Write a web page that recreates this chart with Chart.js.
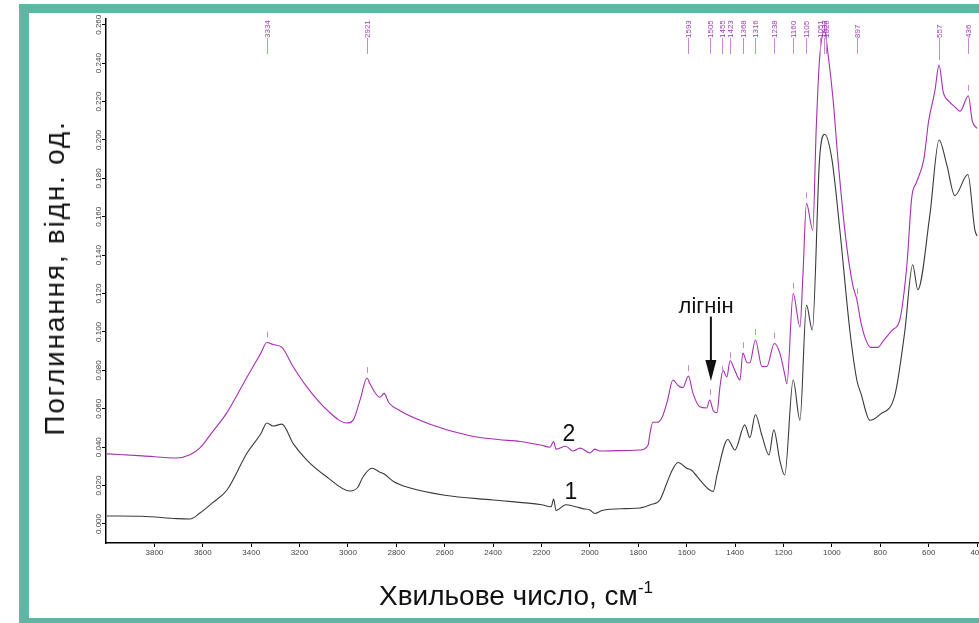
<!DOCTYPE html>
<html lang="uk">
<head>
<meta charset="UTF-8">
<title>ІЧ-спектри</title>
<script src="https://cdn.jsdelivr.net/npm/chart.js"></script>
<style>
  html, body { margin: 0; padding: 0; background: #fff; width: 979px; height: 623px; overflow: hidden; }
  .frame { position: absolute; left: 19px; top: 4px; width: 1000px; height: 624px; box-sizing: border-box;
           border: 10px solid #5fb6a2; border-top-width: 9px; }
  #chart { position: absolute; left: 0; top: 0; }
  .ytitle { position: absolute; left: 55px; top: 278px; transform: translate(-50%, -50%) rotate(-90deg);
            white-space: nowrap; font: 28px "Liberation Sans", Arial, sans-serif; letter-spacing: 1.8px; color: #111; }
  .xtitle { position: absolute; left: 516px; top: 596px; transform: translate(-50%, -50%);
            white-space: nowrap; font: 28px "Liberation Sans", Arial, sans-serif; color: #111; }
  .xtitle sup { font-size: 17px; vertical-align: 12px; line-height: 0; }
</style>
</head>
<body>
  <div class="frame"></div>
  <canvas id="chart" width="979" height="623"></canvas>
  <div class="ytitle">Поглинання, відн. од.</div>
  <div class="xtitle">Хвильове число, см<sup>-1</sup></div>
<script>
// spectrum 2 (purple, upper)
const wave2 = [3996, 3850, 3707, 3653, 3612, 3560, 3500, 3417, 3360, 3335,
               3310, 3273, 3227, 3170, 3087, 3004, 2979, 2950, 2921, 2909,
               2868, 2851, 2830, 2785, 2661, 2496, 2380, 2289, 2200, 2165,
               2150, 2140, 2100, 2070, 2040, 2000, 1980, 1959, 1880, 1794,
               1760, 1752, 1740, 1720, 1700, 1680, 1657, 1635, 1616, 1593,
               1574, 1546, 1517, 1505, 1490, 1475, 1463, 1450, 1434, 1421,
               1401, 1380, 1368, 1350, 1339, 1316, 1289, 1269, 1238, 1215,
               1195, 1186, 1160, 1132, 1120, 1105, 1079, 1065, 1051, 1030,
               1018, 995, 975, 942, 913, 897, 880, 860, 840, 810,
               790, 750, 720, 690, 670, 650, 620, 600, 575, 557,
               540, 515, 490, 470, 436, 420, 400];
const abs2 = [0.0365, 0.0355, 0.0344, 0.0360, 0.0396, 0.0480, 0.0580, 0.0766, 0.0890, 0.0945,
              0.0935, 0.0920, 0.0820, 0.0714, 0.0594, 0.0526, 0.0540, 0.0646, 0.0760, 0.0730,
              0.0660, 0.0680, 0.0630, 0.0590, 0.0520, 0.0460, 0.0440, 0.0430, 0.0410, 0.0400,
              0.0430, 0.0390, 0.0405, 0.0380, 0.0395, 0.0370, 0.0390, 0.0380, 0.0382, 0.0385,
              0.0410, 0.0470, 0.0530, 0.0530, 0.0560, 0.0640, 0.0750, 0.0720, 0.0710, 0.0770,
              0.0680, 0.0610, 0.0604, 0.0646, 0.0590, 0.0580, 0.0710, 0.0800, 0.0766, 0.0850,
              0.0800, 0.0750, 0.0890, 0.0840, 0.0840, 0.0958, 0.0820, 0.0820, 0.0940, 0.0890,
              0.0780, 0.0730, 0.1200, 0.1026, 0.1286, 0.1670, 0.1530, 0.2050, 0.2420, 0.2570,
              0.2470, 0.2210, 0.1900, 0.1480, 0.1240, 0.1170, 0.1050, 0.0960, 0.0920, 0.0920,
              0.0950, 0.1010, 0.1060, 0.1350, 0.1700, 0.1780, 0.1900, 0.2100, 0.2250, 0.2390,
              0.2250, 0.2200, 0.2170, 0.2150, 0.2230, 0.2100, 0.2060];

// spectrum 1 (black, lower)
const wave1 = [3996, 3850, 3707, 3653, 3612, 3560, 3500, 3417, 3360, 3335,
               3310, 3273, 3227, 3170, 3087, 2992, 2960, 2938, 2901, 2868,
               2850, 2810, 2750, 2600, 2400, 2200, 2160, 2150, 2140, 2100,
               2060, 2030, 2000, 1980, 1950, 1850, 1794, 1750, 1711, 1680,
               1660, 1636, 1600, 1580, 1546, 1505, 1490, 1475, 1430, 1401,
               1360, 1339, 1316, 1289, 1260, 1240, 1215, 1195, 1160, 1132,
               1105, 1081, 1051, 1030, 1000, 967, 926, 897, 880, 843,
               802, 740, 699, 666, 645, 595, 557, 525, 492, 438,
               409, 400];
const abs1 = [0.0042, 0.0040, 0.0028, 0.0026, 0.0057, 0.0110, 0.0177, 0.0370, 0.0470, 0.0526,
              0.0510, 0.0520, 0.0420, 0.0333, 0.0245, 0.0172, 0.0190, 0.0245, 0.0290, 0.0270,
              0.0260, 0.0220, 0.0190, 0.0150, 0.0125, 0.0100, 0.0090, 0.0130, 0.0070, 0.0100,
              0.0090, 0.0080, 0.0073, 0.0055, 0.0070, 0.0080, 0.0083, 0.0100, 0.0125, 0.0220,
              0.0280, 0.0320, 0.0290, 0.0280, 0.0230, 0.0177, 0.0170, 0.0255, 0.0440, 0.0385,
              0.0516, 0.0450, 0.0570, 0.0460, 0.0360, 0.0490, 0.0330, 0.0255, 0.0750, 0.0540,
              0.1140, 0.1010, 0.1900, 0.2030, 0.1900, 0.1530, 0.1010, 0.0750, 0.0680, 0.0540,
              0.0570, 0.0670, 0.1000, 0.1350, 0.1220, 0.1610, 0.2000, 0.1870, 0.1710, 0.1820,
              0.1530, 0.1500];

// x axis tick values
const xTicks = [400, 600, 800, 1000, 1200, 1400, 1600, 1800, 2000, 2200,
                2400, 2600, 2800, 3000, 3200, 3400, 3600, 3800];

// peak picks shown at the top
const peaks = [3334, 2921, 1593, 1505, 1455, 1423, 1368, 1316, 1238, 1160, 1105, 1051, 1033, 1026, 897, 557, 436];

const FONT = '"Liberation Sans", Arial, sans-serif';

function valueAt(waves, vals, w) {
  for (let i = 0; i < waves.length - 1; i++) {
    if (w <= waves[i] && w >= waves[i + 1]) {
      const t = (waves[i] - w) / (waves[i] - waves[i + 1]);
      return vals[i] + t * (vals[i + 1] - vals[i]);
    }
  }
  return vals[vals.length - 1];
}

const overlay = {
  id: 'overlay',
  afterDraw(chart) {
    const ctx = chart.ctx, xs = chart.scales.x, ys = chart.scales.y;
    ctx.save();
    // y tick labels, rotated
    ctx.fillStyle = '#444';
    ctx.font = '8px ' + FONT;
    ys.ticks.forEach(t => {
      const y = ys.getPixelForValue(t.value);
      ctx.save();
      ctx.translate(99, y);
      ctx.rotate(-Math.PI / 2);
      ctx.textAlign = 'center';
      ctx.textBaseline = 'middle';
      ctx.fillText(t.value.toFixed(3), 0, 0);
      ctx.restore();
    });
    // peak labels at the top + small marks over spectrum 2
    peaks.forEach(p => {
      const x = Math.round(xs.getPixelForValue(p)) + 0.5;
      ctx.strokeStyle = '#c98ad4';
      ctx.lineWidth = 1;
      ctx.beginPath(); ctx.moveTo(x, 38); ctx.lineTo(x, 54); ctx.stroke();
      const yp = ys.getPixelForValue(valueAt(wave2, abs2, p));
      ctx.beginPath(); ctx.moveTo(x, yp - 11); ctx.lineTo(x, yp - 5); ctx.stroke();
      ctx.save();
      ctx.translate(x, 38);
      ctx.rotate(-Math.PI / 2);
      ctx.fillStyle = '#a23cb4';
      ctx.font = '8px ' + FONT;
      ctx.textAlign = 'left';
      ctx.textBaseline = 'middle';
      ctx.fillText(String(p), 0, 0);
      ctx.restore();
    });
    // annotations
    ctx.fillStyle = '#111';
    ctx.strokeStyle = '#111';
    ctx.textAlign = 'center';
    ctx.textBaseline = 'alphabetic';
    ctx.font = '22px ' + FONT;
    ctx.fillText('лігнін', xs.getPixelForValue(1520), ys.getPixelForValue(0.110));
    const ax = xs.getPixelForValue(1500);
    const yTop = ys.getPixelForValue(0.108), yTip = ys.getPixelForValue(0.0745);
    ctx.lineWidth = 2;
    ctx.beginPath(); ctx.moveTo(ax, yTop); ctx.lineTo(ax, yTip - 16); ctx.stroke();
    ctx.beginPath(); ctx.moveTo(ax - 5.5, yTip - 21); ctx.lineTo(ax + 5.5, yTip - 21); ctx.lineTo(ax, yTip); ctx.closePath(); ctx.fill();
    ctx.font = '23px ' + FONT;
    ctx.textBaseline = 'middle';
    ctx.fillText('2', xs.getPixelForValue(2087), ys.getPixelForValue(0.0465));
    ctx.fillText('1', xs.getPixelForValue(2079), ys.getPixelForValue(0.0165));
    ctx.restore();
  }
};

new Chart(document.getElementById('chart'), {
  type: 'line',
  data: {
    datasets: [
      {
        label: '1',
        data: wave1.map((w, i) => ({ x: w, y: abs1[i] })),
        borderColor: '#3a3a3a',
        borderWidth: 1.1,
        pointRadius: 0,
        cubicInterpolationMode: 'monotone',
        fill: false
      },
      {
        label: '2',
        data: wave2.map((w, i) => ({ x: w, y: abs2[i] })),
        borderColor: '#a52fb0',
        borderWidth: 1.1,
        pointRadius: 0,
        cubicInterpolationMode: 'monotone',
        fill: false
      }
    ]
  },
  options: {
    responsive: false,
    animation: false,
    devicePixelRatio: 1,
    layout: { padding: { top: 19, right: 0, bottom: 0, left: 0 } },
    plugins: { legend: { display: false }, tooltip: { enabled: false } },
    scales: {
      x: {
        type: 'linear',
        reverse: true,
        min: 392,
        max: 4000,
        afterBuildTicks: s => { s.ticks = xTicks.map(v => ({ value: v })); },
        afterFit: s => { s.height = 80; s.paddingLeft = 0; s.paddingRight = 0; },
        ticks: {
          autoSkip: false,
          maxRotation: 0,
          padding: 1,
          color: '#444',
          font: { family: FONT, size: 8 },
          callback: v => String(v)
        },
        grid: { drawOnChartArea: false, drawTicks: true, tickLength: 4, color: '#000' },
        border: { display: true, color: '#000', width: 1.5 }
      },
      y: {
        min: -0.0099,
        max: 0.263,
        afterFit: s => { s.width = 106; s.paddingTop = 0; s.paddingBottom = 0; },
        ticks: { stepSize: 0.02, includeBounds: false, display: false },
        grid: { drawOnChartArea: false, drawTicks: true, tickLength: 4, color: '#000' },
        border: { display: true, color: '#000', width: 1.5 }
      }
    }
  },
  plugins: [overlay]
});
</script>
</body>
</html>
